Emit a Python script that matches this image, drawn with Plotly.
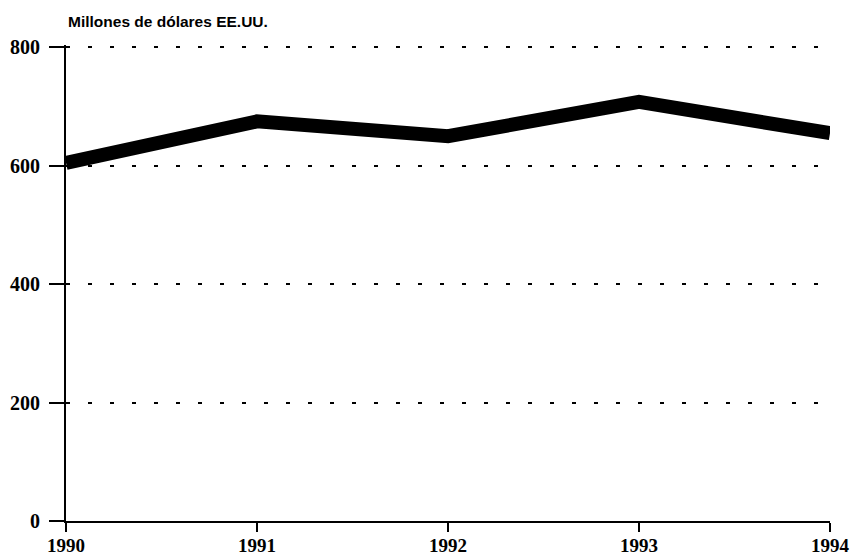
import plotly.graph_objects as go

years = [1990, 1991, 1992, 1993, 1994]
values = [605, 675, 650, 708, 655]
y_ticks = [0, 200, 400, 600, 800]
y_title = "Millones de dólares EE.UU."

fig = go.Figure()
fig.add_trace(go.Scatter(
    x=years, y=values, mode="lines",
    line=dict(color="black", width=14),
    hoverinfo="x+y", showlegend=False,
))

fig.update_layout(
    width=854, height=557,
    margin=dict(l=66, r=24, t=45, b=36),
    paper_bgcolor="white", plot_bgcolor="white",
    font=dict(family="Liberation Serif", color="black", size=20),
    annotations=[dict(
        text="<b>" + y_title + "</b>", xref="paper", yref="paper",
        x=0, y=1, xanchor="left", yanchor="bottom", yshift=13, xshift=0,
        showarrow=False, font=dict(family="Liberation Sans", size=15.5, color="black"),
    )],
)
fig.update_xaxes(
    range=[1990, 1994], tickvals=years,
    ticktext=["<b>%d</b>" % y for y in years],
    showgrid=False, zeroline=False, automargin=False,
    showline=True, linecolor="black", linewidth=2,
    ticks="outside", ticklen=9, tickwidth=2, tickcolor="black",
    ticklabelstandoff=-3,
    tickfont=dict(family="Liberation Serif", size=19),
)
fig.update_yaxes(
    range=[0, 804], tickvals=y_ticks,
    ticktext=["<b>%d</b>" % v for v in y_ticks],
    showgrid=True, gridcolor="black", gridwidth=1.5, griddash="4px,18px",
    zeroline=False, automargin=False,
    showline=True, linecolor="black", linewidth=2,
    ticks="outside", ticklen=15, tickwidth=2, tickcolor="black",
    ticklabelstandoff=5,
    tickfont=dict(family="Liberation Serif", size=20),
)
fig.write_html(
    "out.html",
    config={"displayModeBar": False},
    post_script="document.body.style.margin='0';document.body.style.overflow='hidden';",
)
